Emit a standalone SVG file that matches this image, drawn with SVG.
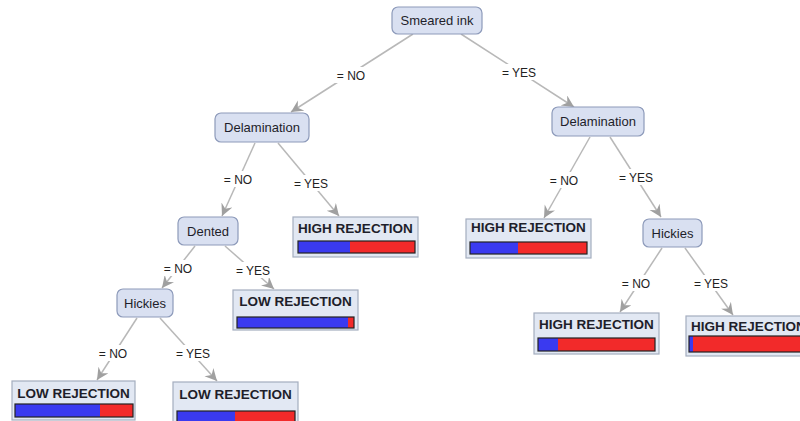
<svg xmlns="http://www.w3.org/2000/svg" width="800" height="421" viewBox="0 0 800 421">
<defs>
<marker id="arr" markerWidth="14" markerHeight="14" refX="12" refY="6" orient="auto" markerUnits="userSpaceOnUse">
<path d="M0,0 L12,6 L0,12 L4,6 z" fill="#a0a0a0"/>
</marker>
<style>
.edge{stroke:#b8b8b8;stroke-width:1.5;fill:none;marker-end:url(#arr)}
.node rect{fill:#d9e0f1;stroke:#8d9aba;stroke-width:1.2}
.node text{font-family:"Liberation Sans",Arial,sans-serif;font-size:13px;fill:#1e1e2a;text-anchor:middle}
.leaf .box{fill:#e2e8f3;stroke:#a4adbf;stroke-width:1.2}
.leaf text{font-family:"Liberation Sans",Arial,sans-serif;font-size:13.5px;font-weight:bold;fill:#1e1e2a;text-anchor:middle}
.blue{fill:#3a3af0}
.red{fill:#f22a2a}
.frame{fill:none;stroke:#222;stroke-width:1.2}
.lbl text{font-family:"Liberation Sans",Arial,sans-serif;font-size:12px;fill:#222;text-anchor:middle}
.lbl rect{fill:#ffffff}
</style>
</defs>
<rect width="800" height="421" fill="#ffffff"/>

<g id="connectors">
<path class="edge" d="M413,34 L291,112"/>
<path class="edge" d="M461,34 L574,107"/>
<path class="edge" d="M255,143 L222,216"/>
<path class="edge" d="M278,143 L339,216"/>
<path class="edge" d="M590,137 L544,218"/>
<path class="edge" d="M610,137 L661,217"/>
<path class="edge" d="M195,246 L162,288"/>
<path class="edge" d="M225,246 L274,289"/>
<path class="edge" d="M137,318 L97,380"/>
<path class="edge" d="M160,318 L217,381"/>
<path class="edge" d="M662,248 L620,312"/>
<path class="edge" d="M685,248 L733,315"/>
<g class="lbl">
<rect x="333" y="67" width="36" height="16"/><text x="351" y="80">= NO</text>
<rect x="498" y="64" width="42" height="16"/><text x="519" y="77">= YES</text>
<rect x="220" y="171" width="36" height="16"/><text x="238" y="184">= NO</text>
<rect x="290" y="175" width="42" height="16"/><text x="311" y="188">= YES</text>
<rect x="546" y="172" width="36" height="16"/><text x="564" y="185">= NO</text>
<rect x="615" y="169" width="42" height="16"/><text x="636" y="182">= YES</text>
<rect x="160" y="260" width="36" height="16"/><text x="178" y="273">= NO</text>
<rect x="232" y="262" width="42" height="16"/><text x="253" y="275">= YES</text>
<rect x="95" y="345" width="36" height="16"/><text x="113" y="358">= NO</text>
<rect x="172" y="345" width="42" height="16"/><text x="193" y="358">= YES</text>
<rect x="618" y="275" width="36" height="16"/><text x="636" y="288">= NO</text>
<rect x="690" y="275" width="42" height="16"/><text x="711" y="288">= YES</text>
</g>
</g>

<g id="smeared_ink" class="node"><rect x="392" y="7" width="90" height="27" rx="6"/><text x="437" y="25">Smeared ink</text></g>
<g id="delamination_no" class="node"><rect x="215" y="113" width="94" height="29" rx="6"/><text x="262" y="132">Delamination</text></g>
<g id="delamination_yes" class="node"><rect x="552" y="107" width="92" height="29" rx="6"/><text x="598" y="126">Delamination</text></g>
<g id="dented" class="node"><rect x="178" y="217" width="60" height="28" rx="6"/><text x="208" y="236">Dented</text></g>
<g id="hickies_left" class="node"><rect x="117" y="289" width="56" height="28" rx="6"/><text x="145" y="308">Hickies</text></g>
<g id="hickies_right" class="node"><rect x="643" y="219" width="59" height="28" rx="6"/><text x="672.5" y="238">Hickies</text></g>

<g id="leaf_high_1" class="leaf"><rect class="box" x="293" y="217" width="125" height="40"/><text x="355.5" y="233">HIGH REJECTION</text>
<rect class="blue" x="298" y="241" width="52" height="12"/><rect class="red" x="350" y="241" width="65" height="12"/><rect class="frame" x="298" y="241" width="117" height="12"/></g>
<g id="leaf_high_2" class="leaf"><rect class="box" x="466" y="219" width="125" height="39"/><text x="528.5" y="232">HIGH REJECTION</text>
<rect class="blue" x="470" y="242" width="48" height="12"/><rect class="red" x="518" y="242" width="69" height="12"/><rect class="frame" x="470" y="242" width="117" height="12"/></g>
<g id="leaf_low_1" class="leaf"><rect class="box" x="233" y="290" width="125" height="40"/><text x="295.5" y="306">LOW REJECTION</text>
<rect class="blue" x="237" y="317" width="111" height="11"/><rect class="red" x="348" y="317" width="6" height="11"/><rect class="frame" x="237" y="317" width="117" height="11"/></g>
<g id="leaf_low_2" class="leaf"><rect class="box" x="12" y="381" width="123" height="39"/><text x="73.5" y="398">LOW REJECTION</text>
<rect class="blue" x="15" y="404" width="85" height="13"/><rect class="red" x="100" y="404" width="33" height="13"/><rect class="frame" x="15" y="404" width="118" height="13"/></g>
<g id="leaf_low_3" class="leaf"><rect class="box" x="173" y="382" width="125" height="42"/><text x="235.5" y="399">LOW REJECTION</text>
<rect class="blue" x="177" y="411" width="58" height="12"/><rect class="red" x="235" y="411" width="60" height="12"/><rect class="frame" x="177" y="411" width="118" height="12"/></g>
<g id="leaf_high_3" class="leaf"><rect class="box" x="534" y="313" width="125" height="41"/><text x="596.5" y="329">HIGH REJECTION</text>
<rect class="blue" x="538" y="338" width="20" height="13"/><rect class="red" x="558" y="338" width="97" height="13"/><rect class="frame" x="538" y="338" width="117" height="13"/></g>
<g id="leaf_high_4" class="leaf"><rect class="box" x="686" y="316" width="125" height="40"/><text x="748.5" y="331">HIGH REJECTION</text>
<rect class="blue" x="689" y="336" width="4" height="16"/><rect class="red" x="693" y="336" width="115" height="16"/><rect class="frame" x="689" y="336" width="119" height="16"/></g>
</svg>
